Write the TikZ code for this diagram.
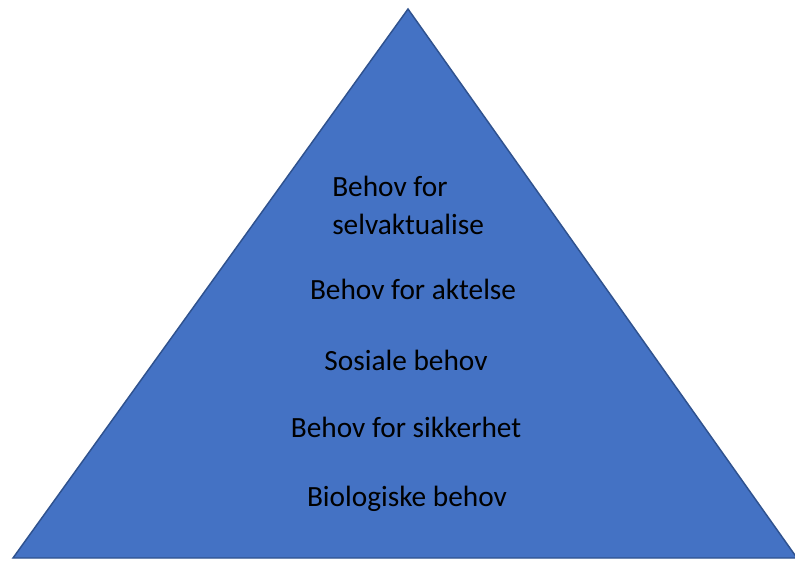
\documentclass[tikz,border=0pt]{standalone}
\usepackage{fontspec}
\setmainfont{Carlito}
\usetikzlibrary{positioning}

\definecolor{pyrfill}{HTML}{4472C4}
\definecolor{pyrline}{HTML}{2F528F}

\begin{document}
\begin{tikzpicture}[
    x=0.75pt, y=-0.75pt,
    every node/.style={font=\fontsize{22}{28.5}\selectfont, text=black},
    level/.style={inner sep=0pt}
]
\useasboundingbox (0,0) rectangle (795,561);
\coordinate (top) at (408,9);
\coordinate (left) at (13,558);
\coordinate (right) at (797,558);
\fill[pyrfill, draw=pyrline, line width=1.1pt, line join=miter] (top) -- (right) -- (left) -- cycle;

\node[level, anchor=west, align=left] (self) at (332,205) {Behov for\\selvaktualise};
\node[level] (esteem) at (413,289) {Behov for aktelse};
\node[level] (social) at (406,360) {Sosiale behov};
\node[level] (safety) at (406,427) {Behov for sikkerhet};
\node[level] (bio) at (407,499) {Biologiske behov};
\end{tikzpicture}
\end{document}
